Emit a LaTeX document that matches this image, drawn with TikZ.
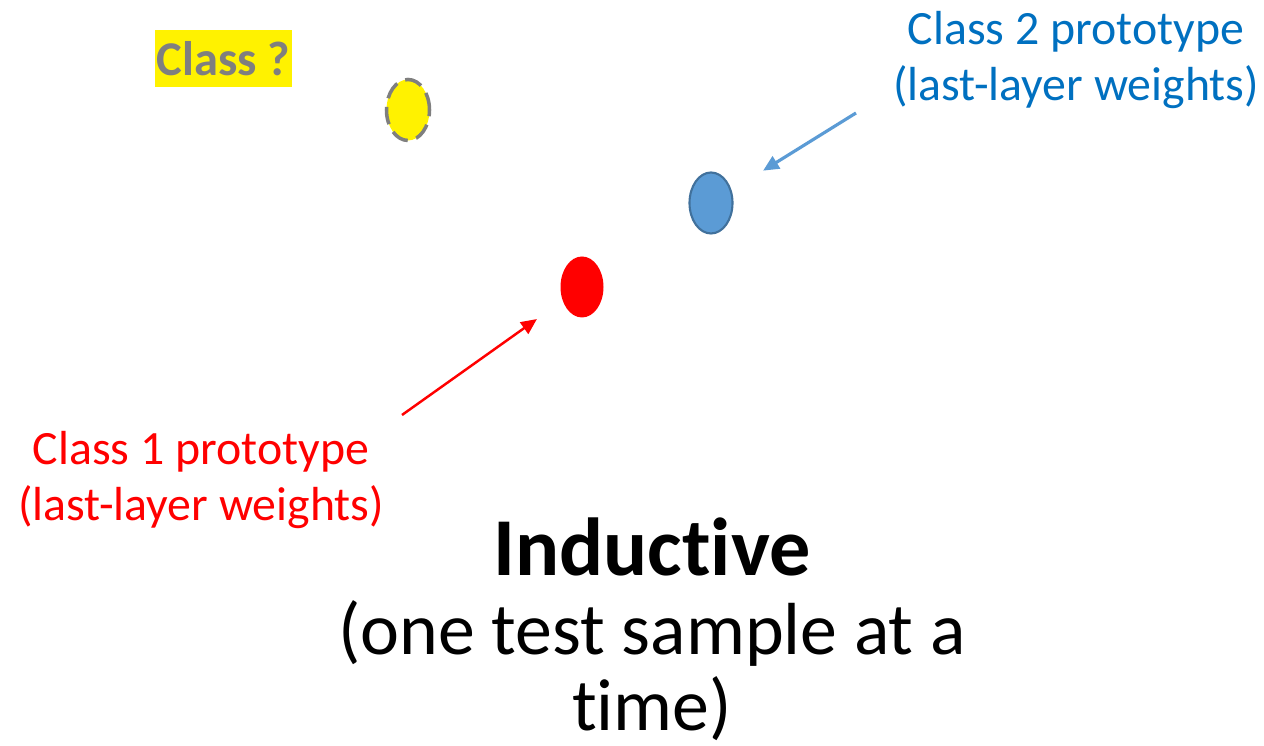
\documentclass[tikz,border=0pt]{standalone}
\usepackage{fontspec}
\setmainfont[Ligatures=NoCommon]{Carlito}
\usetikzlibrary{shapes.geometric, arrows.meta}
\definecolor{protoblue}{HTML}{5B9BD5}
\definecolor{protoedge}{HTML}{41719C}
\definecolor{textblue}{HTML}{0070C0}
\definecolor{qgray}{HTML}{7F7F7F}
\tikzset{
  proto/.style={ellipse, inner sep=0pt, minimum width=0.43cm, minimum height=0.61cm},
  note/.style={align=center, font=\fontsize{13.6}{16.2}\selectfont}
}

\begin{document}
\begin{tikzpicture}[>={Triangle[length=4.5pt, width=4pt]}]
  \useasboundingbox (0,0) rectangle (12.64,-7.46);
  \node[fill=yellow, text=qgray, inner xsep=0.5pt, inner ysep=2pt, minimum width=1.33cm, minimum height=0.57cm,
        font=\fontsize{13.8}{16}\selectfont\bfseries] (ask) at (2.235,-0.585) {Class ?};
  \node[proto, fill=yellow, draw=qgray, line width=1pt, dash pattern=on 5pt off 2.5pt] (test) at (4.08,-1.10) {};
  \node[proto, fill=protoblue, draw=protoedge, line width=0.6pt] (blue) at (7.11,-2.03) {};
  \node[proto, fill=red] (red) at (5.82,-2.87) {};
  \node[note, text=textblue] (c2) at (10.76,-0.60) {Class 2 prototype\\(last-layer weights)};
  \node[note, text=red] (c1) at (2.01,-4.80) {Class 1 prototype\\(last-layer weights)};
  \coordinate (c2tail) at (8.56,-1.13);
  \coordinate (c1tail) at (4.02,-4.15);
  \draw[->, protoblue, line width=0.9pt, shorten >=0.37cm] (c2tail) -- (blue);
  \draw[->, red, line width=0.7pt, shorten >=0.31cm] (c1tail) -- (red);
  \node[font=\fontsize{23.4}{26}\selectfont\bfseries] (mode) at (6.52,-5.47) {Inductive};
  \node[align=center, font=\fontsize{21}{21.6}\selectfont] (desc) at (6.52,-6.71) {(one test sample at a\\time)};
\end{tikzpicture}
\end{document}
